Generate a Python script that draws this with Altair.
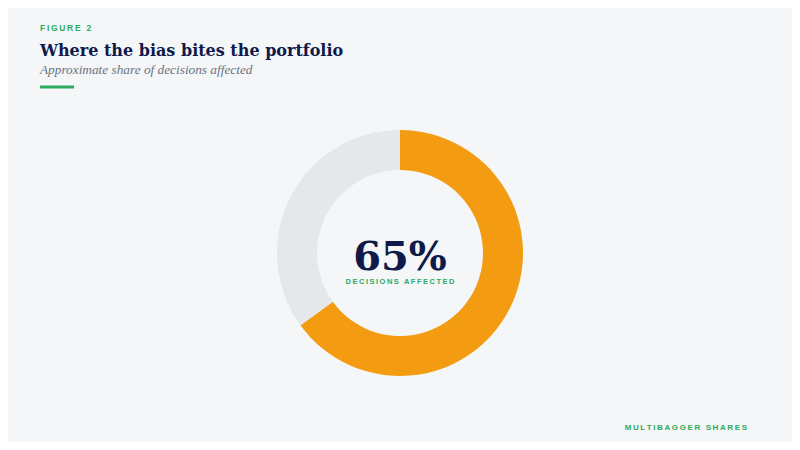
import altair as alt
import pandas as pd

# ---- data ----
segments = ["Affected", "Not affected"]
shares = [65, 35]
seg_order = [0, 1]
seg_colors = ["#F39C12", "#E4E8EB"]

kicker = "FIGURE 2"
title_text = "Where the bias bites the portfolio"
subtitle_text = "Approximate share of decisions affected"
center_value = "65%"
center_label = "DECISIONS AFFECTED"
source_text = "MULTIBAGGER SHARES"

BG = "#F4F6F8"
NAVY = "#0F1A4A"
GREEN = "#2EAA5C"
GRAY = "#6B7280"
SERIF = "DejaVu Serif"
SERIF2 = "Liberation Serif"
SANS = "Liberation Sans"

def spaced(s, sep="\u2009"):
    return sep.join(list(s))

df = pd.DataFrame({"segment": segments, "share": shares, "order": seg_order})

W, H = 784, 434
CX, CY = 392, 245

donut = alt.Chart(df).mark_arc(outerRadius=123, innerRadius=83, stroke=None).encode(
    theta=alt.Theta("share:Q", stack=True),
    order=alt.Order("order:Q"),
    color=alt.Color("segment:N", scale=alt.Scale(domain=segments, range=seg_colors), legend=None),
    x=alt.value(CX),
    y=alt.value(CY),
)

one = pd.DataFrame({"k": [0]})

def txt(text, x, y, size, color, font, weight="normal", style="normal", align="left"):
    return alt.Chart(one).mark_text(
        text=text, font=font, fontSize=size, fontWeight=weight, fontStyle=style,
        color=color, align=align, baseline="alphabetic",
    ).encode(x=alt.value(x), y=alt.value(y))

layers = [
    donut,
    txt(spaced(kicker), 32, 23, 8.5, GREEN, SANS, "bold"),
    txt(title_text, 32, 48, 16, NAVY, SERIF, "bold"),
    txt(subtitle_text, 32, 66, 13.3, GRAY, SERIF2, style="italic"),
    alt.Chart(one).mark_rule(color=GREEN, strokeWidth=3).encode(
        x=alt.value(32), x2=alt.value(66), y=alt.value(79)
    ),
    txt(center_value, CX, 262, 40, NAVY, SERIF, "bold", align="center"),
    txt(spaced(center_label), CX, 276, 7.5, GREEN, SANS, "bold", align="center"),
    txt(spaced(source_text), 739, 422, 8, GREEN, SANS, "bold", align="right"),
]

chart = alt.layer(*layers).properties(
    width=W, height=H, background=BG, padding=0,
    autosize=alt.AutoSizeParams(type="none"),
).configure_view(stroke=None)

chart.save("out.html", embed_options={"renderer": "svg", "actions": False})
